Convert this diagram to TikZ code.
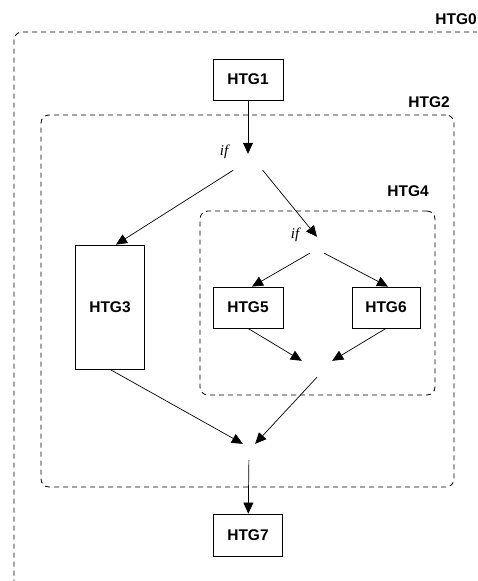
\documentclass[tikz,border=0pt]{standalone}
\usepackage{fontspec}
\setmainfont{Liberation Serif}
\setsansfont{Liberation Sans}
\usepackage{tikz}
\usetikzlibrary{arrows.meta, positioning}

\begin{document}
\begin{tikzpicture}[x=1pt,y=-1pt,
    htg/.style={draw,line width=0.8pt,inner sep=0pt,font=\fontsize{15.5}{18}\sffamily\bfseries},
    group/.style={draw,dashed,dash pattern=on 5pt off 4pt,line width=0.8pt,rounded corners=8pt,inner sep=0pt},
    grouplabel/.style={inner sep=0pt,font=\fontsize{15.5}{18}\sffamily\bfseries},
    hidden/.style={inner sep=0pt},
    iflabel/.style={inner sep=0pt,font=\fontsize{15}{18}\itshape},
    flow/.style={line width=0.7pt,-{Triangle[length=11pt,width=10pt]}}]
            \clip (0,0) rectangle (477,581);
            \node[group,minimum width=481pt,minimum height=568pt](g0) at (254.5,316) {};
            \node[group,minimum width=413pt,minimum height=372pt](g2) at (247.5,301) {};
            \node[group,minimum width=235pt,minimum height=184pt](g4) at (317.5,303) {};
            \node[grouplabel,anchor=east](l0) at (477,19) {HTG0};
            \node[grouplabel,anchor=east](l2) at (450,102) {HTG2};
            \node[grouplabel,anchor=east](l4) at (429,191) {HTG4};
            \node[htg,minimum width=70pt,minimum height=41pt](htg1) at (248,79.5) {HTG1};
            \node[htg,minimum width=69pt,minimum height=124pt](htg3) at (110,307) {HTG3};
            \node[htg,minimum width=70pt,minimum height=41pt](htg5) at (248,307.5) {HTG5};
            \node[htg,minimum width=68pt,minimum height=41pt](htg6) at (386,307.5) {HTG6};
            \node[htg,minimum width=69pt,minimum height=42pt](htg7) at (248,535) {HTG7};
            \node[hidden,minimum width=29pt,minimum height=16pt](ifa) at (248,162) {};
            \node[hidden,minimum width=14pt,minimum height=16pt](ifb) at (317,245) {};
            \node[hidden,minimum width=30pt,minimum height=16pt](joina) at (317,369) {};
            \node[hidden,minimum width=12pt,minimum height=16pt](joinb) at (249,452) {};
            \node[iflabel](ifal) at (224,152) {if};
            \node[iflabel](ifbl) at (295,235) {if};
            \draw[flow] (htg1) -- (ifa);
            \draw[flow] (ifa.south west) -- ([xshift=6pt]htg3.north);
            \draw[flow] (ifa.south east) -- (ifb.north);
            \draw[flow] (ifb.south west) -- ([xshift=4pt]htg5.north);
            \draw[flow] (ifb.south east) -- ([xshift=2pt]htg6.north);
            \draw[flow] (htg5.south) -- (joina.north west);
            \draw[flow] (htg6.south) -- (joina.north east);
            \draw[flow] (htg3.south) -- (joinb.north west);
            \draw[flow] (joina.south) -- (joinb.north east);
            \draw[flow] (joinb) -- (htg7);
\end{tikzpicture}
\end{document}
